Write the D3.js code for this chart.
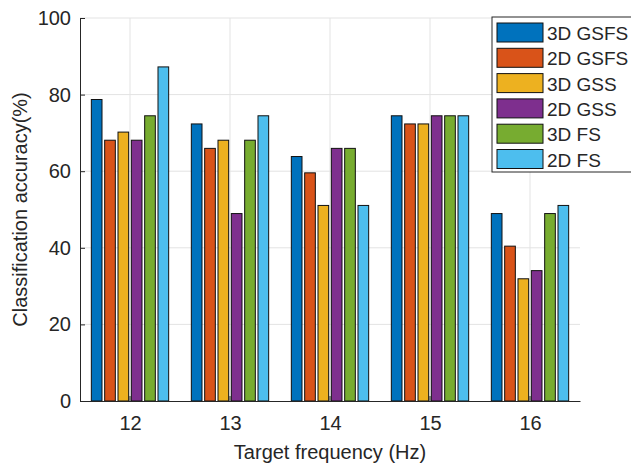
<!DOCTYPE html>
<html lang="en">
<head>
<meta charset="utf-8">
<title>Classification accuracy</title>
<script src="https://cdn.jsdelivr.net/npm/d3@7/dist/d3.min.js"></script>
<style>
  body { margin: 0; background: #fff; }
  text { font-family: "Liberation Sans", Arial, sans-serif; fill: #262626; }
</style>
</head>
<body>
<script type="text/javascript">

// data (accuracy in %)
var freqs = [12, 13, 14, 15, 16];
var methods = ["3D GSFS", "2D GSFS", "3D GSS", "2D GSS", "3D FS", "2D FS"];
var colors = ["#0072BD", "#D95319", "#EDB120", "#7E2F8E", "#77AC30", "#4DBEEE"];
var acc3DGSFS = [78.72, 72.34, 63.83, 74.47, 48.94];
var acc2DGSFS = [68.09, 65.96, 59.57, 72.34, 40.43];
var acc3DGSS  = [70.21, 68.09, 51.06, 72.34, 31.91];
var acc2DGSS  = [68.09, 48.94, 65.96, 74.47, 34.04];
var acc3DFS   = [74.47, 68.09, 65.96, 74.47, 48.94];
var acc2DFS   = [87.23, 74.47, 51.06, 74.47, 51.06];
var yTicks = [0, 20, 40, 60, 80, 100];

var series = [acc3DGSFS, acc2DGSFS, acc3DGSS, acc2DGSS, acc3DFS, acc2DFS];

var width = 631, height = 464;
var m = { left: 80, right: 580, top: 18, bottom: 401 };

var svg = d3.select("body").append("svg")
    .attr("width", width)
    .attr("height", height);

var x = d3.scaleLinear().domain([11.5, 16.5]).range([m.left, m.right]);
var y = d3.scaleLinear().domain([0, 100]).range([m.bottom, m.top]);

// grid
svg.append("g").selectAll("line").data(yTicks.slice(1)).enter().append("line")
    .attr("x1", m.left).attr("x2", m.right)
    .attr("y1", function(d){ return y(d); }).attr("y2", function(d){ return y(d); })
    .attr("stroke", "#e3e3e3").attr("stroke-width", 1);
svg.append("g").selectAll("line").data(freqs).enter().append("line")
    .attr("x1", function(d){ return x(d); }).attr("x2", function(d){ return x(d); })
    .attr("y1", m.top).attr("y2", m.bottom)
    .attr("stroke", "#e3e3e3").attr("stroke-width", 1);

// tick marks (drawn under the bars, like matlab)
svg.append("g").selectAll("line").data(freqs).enter().append("line")
    .attr("x1", function(d){ return x(d); }).attr("x2", function(d){ return x(d); })
    .attr("y1", m.bottom).attr("y2", m.bottom - 5)
    .attr("stroke", "#262626").attr("stroke-width", 1);

// bars
var groupWidth = 0.8;
var pitch = groupWidth / methods.length;
var barW = pitch * 0.8;

series.forEach(function(vals, i) {
    svg.append("g").selectAll("rect").data(vals).enter().append("rect")
        .attr("x", function(d, j){ return x(freqs[j] - groupWidth/2 + pitch*(i + 0.5) - barW/2); })
        .attr("width", x(barW) - x(0))
        .attr("y", function(d){ return y(d); })
        .attr("height", function(d){ return y(0) - y(d); })
        .attr("fill", colors[i])
        .attr("stroke", "#111")
        .attr("stroke-width", 1);
});

// axes
var yAxis = d3.axisLeft(y).tickValues(yTicks).tickSize(-5).tickPadding(9);
var gy = svg.append("g").attr("transform", "translate(" + m.left + ",0)").call(yAxis);
var xAxis = d3.axisBottom(x).tickValues(freqs).tickFormat(d3.format("d")).tickSize(0).tickPadding(15);
var gx = svg.append("g").attr("transform", "translate(0," + m.bottom + ")").call(xAxis);

[gy, gx].forEach(function(g) {
    g.select(".domain").attr("stroke", "#262626").attr("stroke-width", 1);
    g.selectAll(".tick line").attr("stroke", "#262626");
    g.selectAll("text").attr("font-size", 20).attr("fill", "#262626")
        .style("font-family", "'Liberation Sans', Arial, sans-serif");
});

svg.append("text")
    .attr("x", (m.left + m.right) / 2).attr("y", 459)
    .attr("text-anchor", "middle").attr("font-size", 20)
    .text("Target frequency (Hz)");

svg.append("text")
    .attr("transform", "translate(27," + ((m.top + m.bottom) / 2) + ")rotate(-90)")
    .attr("text-anchor", "middle").attr("font-size", 20)
    .text("Classification accuracy(%)");

// legend
var lg = svg.append("g").attr("transform", "translate(492,17)");
lg.append("rect")
    .attr("x", 0).attr("y", 0).attr("width", 150).attr("height", 155)
    .attr("fill", "#fff").attr("stroke", "#262626").attr("stroke-width", 1);
var item = lg.selectAll("g.item").data(methods).enter().append("g")
    .attr("class", "item")
    .attr("transform", function(d, i){ return "translate(5," + (6 + i * 25.3) + ")"; });
item.append("rect")
    .attr("width", 46).attr("height", 19)
    .attr("fill", function(d, i){ return colors[i]; })
    .attr("stroke", "#111").attr("stroke-width", 1);
item.append("text")
    .attr("x", 50).attr("y", 17)
    .attr("font-size", 19)
    .text(function(d){ return d; });

</script>
</body>
</html>
